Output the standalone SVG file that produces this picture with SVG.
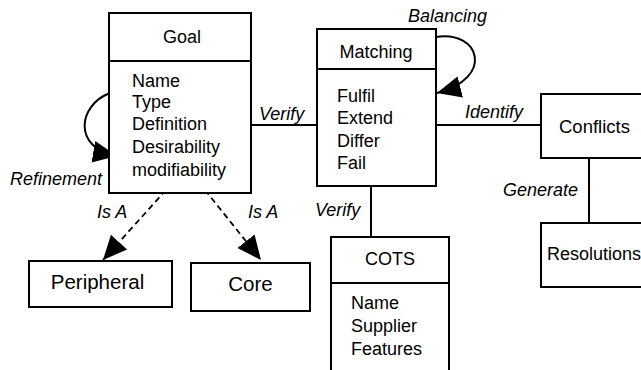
<svg xmlns="http://www.w3.org/2000/svg" width="641" height="370" viewBox="0 0 641 370">
<defs>
<style>
.box{fill:#fff;stroke:#000;stroke-width:2}
.ln{fill:none;stroke:#000;stroke-width:2}
.dash{fill:none;stroke:#000;stroke-width:1.8;stroke-dasharray:6 4}
text{font-family:"Liberation Sans",Arial,sans-serif;fill:#000}
.t{font-size:18px}
.tm{font-size:18px;text-anchor:middle}
.big{font-size:20.5px;text-anchor:middle}
.lbl{font-size:18px;font-style:italic}
</style>
<marker id="ah" markerUnits="userSpaceOnUse" markerWidth="24" markerHeight="24" viewBox="0 0 22 20" refX="22" refY="10" orient="auto">
<path d="M0,0 L22,10 L0,20 Z" fill="#000"/>
</marker>
</defs>
<rect width="641" height="370" fill="#fff"/>
<g id="connectors">
<line class="ln" x1="251" y1="125" x2="317" y2="125"/>
<line class="ln" x1="436" y1="125" x2="541" y2="125"/>
<line class="ln" x1="371" y1="186" x2="371" y2="237"/>
<line class="ln" x1="589" y1="158" x2="589" y2="223"/>
<path class="ln" d="M110,93 C78,105 72,148 117,156" marker-end="url(#ah)"/>
<path class="ln" d="M436,37 C480,30 495,78 437,93" marker-end="url(#ah)"/>
<line class="dash" x1="166" y1="190" x2="103" y2="260" marker-end="url(#ah)"/>
<line class="dash" x1="205" y1="190" x2="261" y2="260" marker-end="url(#ah)"/>
<text class="lbl" x="259" y="120">Verify</text>
<text class="lbl" x="465" y="118">Identify</text>
<text class="lbl" x="315" y="216">Verify</text>
<text class="lbl" x="503" y="196">Generate</text>
<text class="lbl" x="408" y="22">Balancing</text>
<text class="lbl" x="10" y="185">Refinement</text>
<text class="lbl" x="97" y="218">Is A</text>
<text class="lbl" x="248" y="218">Is A</text>
</g>
<g id="goal">
<rect class="box" x="109" y="13" width="142" height="180"/>
<line class="ln" x1="109" y1="61" x2="251" y2="61"/>
<text class="tm" x="182" y="43">Goal</text>
<text class="t" x="132" y="87">Name</text>
<text class="t" x="132" y="108">Type</text>
<text class="t" x="132" y="130">Definition</text>
<text class="t" x="132" y="153">Desirability</text>
<text class="t" x="132" y="176">modifiability</text>
</g>
<g id="matching">
<rect class="box" x="317" y="29" width="119" height="157"/>
<line class="ln" x1="317" y1="69" x2="436" y2="69"/>
<text class="tm" x="376" y="58">Matching</text>
<text class="t" x="337" y="102">Fulfil</text>
<text class="t" x="337" y="124">Extend</text>
<text class="t" x="337" y="147">Differ</text>
<text class="t" x="337" y="169">Fail</text>
</g>
<g id="cots">
<rect class="box" x="331" y="237" width="118" height="150"/>
<line class="ln" x1="331" y1="283" x2="449" y2="283"/>
<text class="tm" x="390" y="265">COTS</text>
<text class="t" x="351" y="309">Name</text>
<text class="t" x="351" y="332">Supplier</text>
<text class="t" x="351" y="355">Features</text>
</g>
<g id="conflicts">
<rect class="box" x="541" y="94" width="120" height="64"/>
<text class="t" x="559" y="133" style="font-size:18.5px">Conflicts</text>
</g>
<g id="resolutions">
<rect class="box" x="541" y="223" width="120" height="64"/>
<text class="t" x="547" y="260">Resolutions</text>
</g>
<g id="peripheral">
<rect class="box" x="29" y="261" width="143" height="46"/>
<text class="big" x="97.5" y="289">Peripheral</text>
</g>
<g id="core">
<rect class="box" x="191" y="263" width="119" height="48"/>
<text class="big" x="250.5" y="291">Core</text>
</g>
</svg>
